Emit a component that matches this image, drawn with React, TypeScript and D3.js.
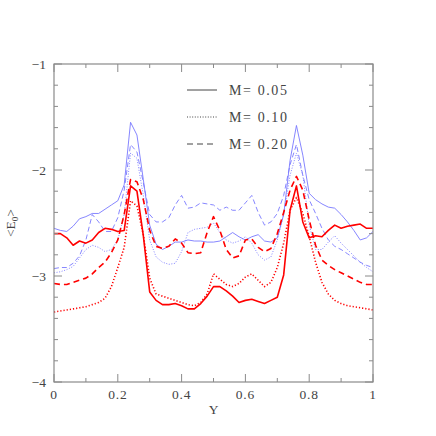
import React from "react";
import * as d3 from "d3";

const X_GRID = d3.range(0, 51).map((i) => i / 50);

const redSolid = [
  -2.60, -2.60, -2.64, -2.71, -2.67, -2.69, -2.66, -2.59, -2.55, -2.56,
  -2.58, -2.57, -2.15, -2.20, -2.62, -3.15, -3.23, -3.27, -3.27, -3.26,
  -3.28, -3.31, -3.31, -3.26, -3.19, -3.10, -3.10, -3.14, -3.19, -3.25,
  -3.23, -3.22, -3.24, -3.26, -3.23, -3.20, -2.99, -2.38, -2.15, -2.49,
  -2.64, -2.62, -2.63, -2.57, -2.52, -2.55, -2.53, -2.52, -2.51, -2.55,
  -2.55,
];

const redDotted = [
  -3.34, -3.33, -3.32, -3.31, -3.30, -3.29, -3.27, -3.25, -3.21, -3.10,
  -2.92, -2.73, -2.29, -2.34, -2.61, -3.02, -3.17, -3.19, -3.21, -3.23,
  -3.25, -3.27, -3.28, -3.25, -3.17, -2.98, -3.03, -3.08, -3.10, -3.07,
  -3.01, -2.98, -3.04, -3.10, -3.06, -2.92, -2.69, -2.38, -2.26, -2.41,
  -2.63, -2.87, -3.06, -3.17, -3.23, -3.26, -3.28, -3.29, -3.30, -3.31,
  -3.32,
];

const redDashed = [
  -3.07, -3.08, -3.08, -3.06, -3.04, -3.02, -2.98, -2.92, -2.87, -2.78,
  -2.66, -2.42, -2.09, -2.11, -2.28, -2.57, -2.72, -2.74, -2.72, -2.65,
  -2.69, -2.78, -2.79, -2.78, -2.59, -2.44, -2.57, -2.75, -2.83, -2.81,
  -2.66, -2.65, -2.73, -2.77, -2.74, -2.60, -2.40, -2.19, -2.06, -2.19,
  -2.47, -2.71, -2.85, -2.90, -2.94, -2.97, -3.00, -3.03, -3.06, -3.08,
  -3.08,
];

const blueSolid = [
  -2.55, -2.57, -2.58, -2.53, -2.46, -2.44, -2.41, -2.41, -2.37, -2.33,
  -2.29, -2.14, -1.55, -1.67, -2.09, -2.52, -2.70, -2.75, -2.72, -2.68,
  -2.68, -2.66, -2.67, -2.67, -2.68, -2.68, -2.67, -2.63, -2.59, -2.63,
  -2.66, -2.63, -2.61, -2.67, -2.68, -2.64, -2.42, -1.91, -1.58, -1.86,
  -2.22, -2.28, -2.32, -2.35, -2.36, -2.42, -2.49, -2.57, -2.66, -2.64,
  -2.58,
];

const blueDotted = [
  -2.97, -2.96, -2.94, -2.91, -2.83, -2.75, -2.71, -2.73, -2.77, -2.75,
  -2.66, -2.42, -1.84, -1.89, -2.24, -2.66, -2.82, -2.87, -2.89, -2.88,
  -2.77, -2.59, -2.56, -2.55, -2.54, -2.50, -2.59, -2.66, -2.69, -2.67,
  -2.63, -2.69, -2.80, -2.85, -2.82, -2.66, -2.42, -2.05, -1.84, -2.05,
  -2.52, -2.75, -2.75, -2.68, -2.62, -2.69, -2.75, -2.81, -2.87, -2.92,
  -2.96,
];

const blueDashed = [
  -2.93, -2.92, -2.92, -2.88, -2.81, -2.66, -2.42, -2.49, -2.58, -2.58,
  -2.45, -2.19, -1.76, -1.83, -2.12, -2.42, -2.49, -2.49, -2.45, -2.33,
  -2.24, -2.36, -2.35, -2.31, -2.32, -2.33, -2.38, -2.35, -2.38, -2.38,
  -2.31, -2.24, -2.40, -2.52, -2.49, -2.41, -2.24, -1.95, -1.76, -2.05,
  -2.28, -2.41, -2.55, -2.66, -2.72, -2.75, -2.79, -2.83, -2.87, -2.90,
  -2.92,
];

const X_TICKS = [0, 0.2, 0.4, 0.6, 0.8, 1];
const X_TICK_LABELS = ["0", "0.2", "0.4", "0.6", "0.8", "1"];
const Y_TICKS = [-4, -3, -2, -1];
const Y_TICK_LABELS = ["\u22124", "\u22123", "\u22122", "\u22121"];
const LEGEND_LABELS = ["M= 0.05", "M= 0.10", "M= 0.20"];

const RED = "#ff0000";
const BLUE = "#7878ff";
const AXIS = "#8a8a8a";
const TEXT = "#444444";
const FONT = "'Liberation Serif', 'DejaVu Serif', serif";

const series = [
  { values: blueSolid, color: BLUE, width: 0.9, dash: "none" },
  { values: blueDotted, color: BLUE, width: 0.9, dash: "1,1.6" },
  { values: blueDashed, color: BLUE, width: 0.9, dash: "5,3" },
  { values: redSolid, color: RED, width: 1.6, dash: "none" },
  { values: redDotted, color: RED, width: 1.6, dash: "1.2,2" },
  { values: redDashed, color: RED, width: 1.6, dash: "6,4" },
];

const legendDash = ["none", "1,1.6", "6,4"];

export default function App() {
  const left = 54, right = 373, top = 64, bottom = 382;
  const x = d3.scaleLinear().domain([0, 1]).range([left, right]);
  const y = d3.scaleLinear().domain([-4, -1]).range([bottom, top]);

  const line = d3
    .line<[number, number]>()
    .x((d) => x(d[0]))
    .y((d) => y(d[1]));

  const xMinor = d3.range(0, 11).map((i) => i / 10);
  const yMinor = d3.range(0, 16).map((i) => -4 + i * 0.2);
  const isMajorX = (v: number) => Math.abs(v * 5 - Math.round(v * 5)) < 1e-6;
  const isMajorY = (v: number) => Math.abs(v - Math.round(v)) < 1e-6;

  return (
    <svg
      width={436}
      height={436}
      style={{ position: "absolute", left: 0, top: 0, background: "#fff" }}
    >
      <defs>
        <clipPath id="plotclip">
          <rect x={left} y={top} width={right - left} height={bottom - top} />
        </clipPath>
      </defs>
      <g clipPath="url(#plotclip)">
        {series.map((s, i) => (
          <path
            key={i}
            d={line(X_GRID.map((xv, j) => [xv, s.values[j]]) as [number, number][]) || ""}
            fill="none"
            stroke={s.color}
            strokeWidth={s.width}
            strokeDasharray={s.dash}
            strokeLinejoin="round"
          />
        ))}
      </g>
      <rect
        x={left}
        y={top}
        width={right - left}
        height={bottom - top}
        fill="none"
        stroke={AXIS}
        strokeWidth={1.2}
      />
      {xMinor.map((v, i) => {
        const len = isMajorX(v) ? 8 : 4;
        return (
          <g key={"xt" + i} stroke={AXIS} strokeWidth={1}>
            <line x1={x(v)} x2={x(v)} y1={bottom} y2={bottom - len} />
            <line x1={x(v)} x2={x(v)} y1={top} y2={top + len} />
          </g>
        );
      })}
      {yMinor.map((v, i) => {
        const len = isMajorY(v) ? 8 : 4;
        return (
          <g key={"yt" + i} stroke={AXIS} strokeWidth={1}>
            <line x1={left} x2={left + len} y1={y(v)} y2={y(v)} />
            <line x1={right} x2={right - len} y1={y(v)} y2={y(v)} />
          </g>
        );
      })}
      {X_TICKS.map((v, i) => (
        <text
          key={"xl" + i}
          x={x(v)}
          y={bottom + 17}
          textAnchor="middle"
          fontFamily={FONT}
          fontSize={13.5}
          letterSpacing={0.8}
          fill={TEXT}
        >
          {X_TICK_LABELS[i]}
        </text>
      ))}
      {Y_TICKS.map((v, i) => (
        <text
          key={"yl" + i}
          x={left - 8}
          y={y(v) + 4.5}
          textAnchor="end"
          fontFamily={FONT}
          fontSize={13.5}
          fill={TEXT}
        >
          {Y_TICK_LABELS[i]}
        </text>
      ))}
      <text
        x={(left + right) / 2}
        y={414}
        textAnchor="middle"
        fontFamily={FONT}
        fontSize={13.5}
        fill={TEXT}
      >
        Y
      </text>
      <text
        transform={`translate(15,${(top + bottom) / 2}) rotate(-90)`}
        textAnchor="middle"
        fontFamily={FONT}
        fontSize={13.5}
        fill={TEXT}
      >
        {"<E"}
        <tspan fontSize={9} dy={3}>0</tspan>
        <tspan dy={-3}>{">"}</tspan>
      </text>
      {LEGEND_LABELS.map((lab, i) => {
        const ly = 90 + i * 27;
        return (
          <g key={"lg" + i}>
            <line
              x1={187}
              x2={217}
              y1={ly}
              y2={ly}
              stroke="#444"
              strokeWidth={1}
              strokeDasharray={legendDash[i]}
            />
            <text
              x={229}
              y={ly + 5}
              fontFamily={FONT}
              fontSize={14}
              letterSpacing={1.6}
              fill={TEXT}
            >
              {lab}
            </text>
          </g>
        );
      })}
    </svg>
  );
}
